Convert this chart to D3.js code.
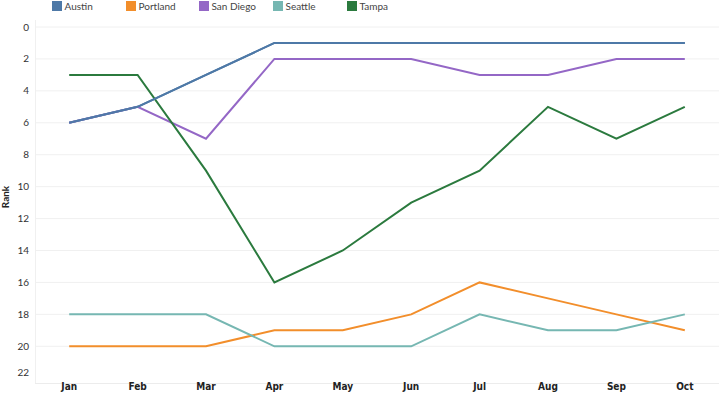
<!DOCTYPE html>
<html>
<head>
<meta charset="utf-8">
<script src="https://cdn.jsdelivr.net/npm/d3@7"></script>
<style>
  body { margin: 0; background: #fff; }
  text { font-family: Lato, "Open Sans", sans-serif; }
</style>
</head>
<body>
<div class="viz"></div>
<script>
const months = ["Jan", "Feb", "Mar", "Apr", "May", "Jun", "Jul", "Aug", "Sep", "Oct"]
const cities = ["Austin", "Portland", "San Diego", "Seattle", "Tampa"]
const austin   = [6, 5, 3, 1, 1, 1, 1, 1, 1, 1]
const portland = [20, 20, 20, 19, 19, 18, 16, 17, 18, 19]
const sanDiego = [6, 5, 7, 2, 2, 2, 3, 3, 2, 2]
const seattle  = [18, 18, 18, 20, 20, 20, 18, 19, 19, 18]
const tampa    = [3, 3, 9, 16, 14, 11, 9, 5, 7, 5]
const yTicks = [0, 2, 4, 6, 8, 10, 12, 14, 16, 18, 20, 22]
const colors = ["#4e79a7", "#f28e2b", "#9467c6", "#76b7b2", "#2b7a3e"]

const series = [austin, portland, sanDiego, seattle, tampa]

var w = 720
var h = 394

const svg = d3.select(".viz")
  .append("svg")
  .attr("width", w)
  .attr("height", h)

var x = d3.scalePoint()
  .domain(months)
  .range([35, 719])
  .padding(0.5)

var y = d3.scaleLinear()
  .domain([0, 22.3])
  .range([27, 383])

// gridlines
svg.selectAll("line.grid")
  .data(yTicks.filter(d => d < 22))
  .enter()
  .append("line")
  .attr("class", "grid")
  .attr("x1", 35)
  .attr("x2", 719)
  .attr("y1", d => y(d))
  .attr("y2", d => y(d))
  .attr("stroke", "#f0f0f0")
  .attr("stroke-width", 1)

// axis frame lines
svg.append("line")
  .attr("x1", 35.5).attr("x2", 35.5)
  .attr("y1", 20).attr("y2", 383)
  .attr("stroke", "#f0f0f0")
svg.append("line")
  .attr("x1", 35).attr("x2", 719)
  .attr("y1", 383.5).attr("y2", 383.5)
  .attr("stroke", "#ececec")

// y tick labels
svg.selectAll("text.ytick")
  .data(yTicks)
  .enter()
  .append("text")
  .attr("class", "ytick")
  .attr("x", 29)
  .attr("y", d => d == 22 ? 372 : y(d))
  .attr("dy", "0.35em")
  .attr("text-anchor", "end")
  .attr("font-size", 10)
  .attr("fill", "#333")
  .text(d => d)

// y title
svg.append("text")
  .attr("transform", "translate(9," + 197 + ") rotate(-90)")
  .attr("text-anchor", "middle")
  .attr("font-size", 10)
  .attr("font-weight", "bold")
  .attr("fill", "#222")
  .text("Rank")

// x tick labels
svg.selectAll("text.xtick")
  .data(months)
  .enter()
  .append("text")
  .attr("class", "xtick")
  .attr("x", d => x(d))
  .attr("y", 390)
  .attr("text-anchor", "middle")
  .attr("font-size", 10)
  .attr("font-weight", "bold")
  .attr("fill", "#222")
  .style("font-family", "'Liberation Sans Narrow', 'DejaVu Sans Condensed', sans-serif")
  .text(d => d)

// lines
var line = d3.line()
  .x((d, i) => x(months[i]))
  .y(d => y(d))

svg.selectAll("path.city")
  .data(series)
  .enter()
  .append("path")
  .attr("class", "city")
  .attr("d", d => line(d))
  .attr("fill", "none")
  .attr("stroke", (d, i) => colors[i])
  .attr("stroke-width", 2)

// redraw Austin on top (it covers San Diego at Jan/Feb)
svg.append("path")
  .attr("d", line(austin))
  .attr("fill", "none")
  .attr("stroke", colors[0])
  .attr("stroke-width", 2)

// legend
const legendX = [52, 126, 199, 273, 347]
const lg = svg.selectAll("g.legend")
  .data(cities)
  .enter()
  .append("g")
  .attr("class", "legend")
  .attr("transform", (d, i) => "translate(" + legendX[i] + ",1)")
lg.append("rect")
  .attr("width", 10)
  .attr("height", 10)
  .attr("fill", (d, i) => colors[i])
lg.append("text")
  .attr("x", 12.5)
  .attr("y", 9)
  .attr("font-size", 10)
  .attr("fill", "#444")
  .text(d => d)
</script>
</body>
</html>
